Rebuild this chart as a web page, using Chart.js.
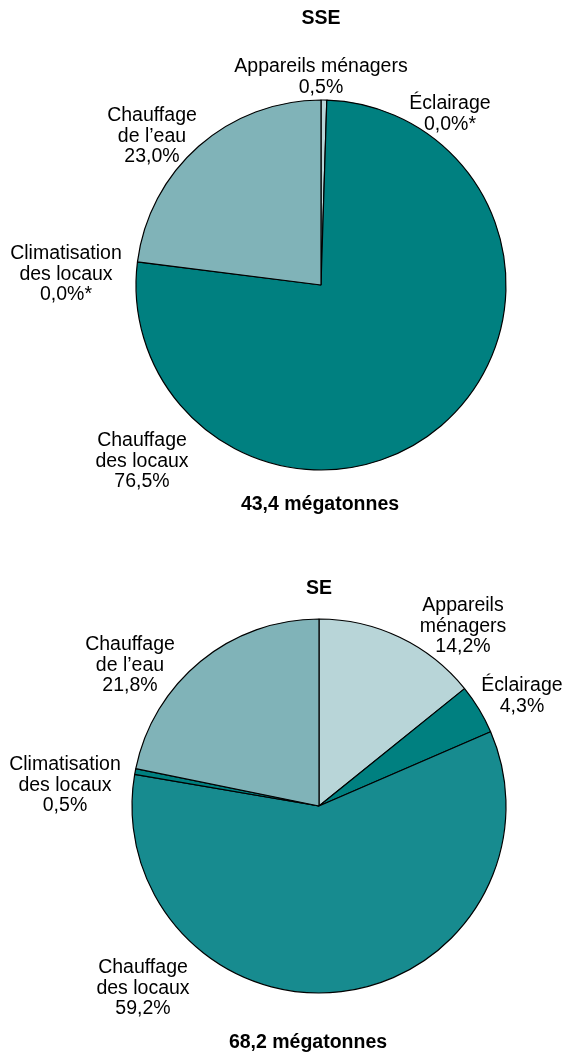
<!DOCTYPE html>
<html>
<head>
<meta charset="utf-8">
<script src="https://cdn.jsdelivr.net/npm/chart.js@4.4.0/dist/chart.umd.min.js"></script>
<style>
  body { margin: 0; background: #fff; }
  .pie { position: absolute; left: 0; width: 564px; }
</style>
</head>
<body>
<div class="pie" style="top:0;height:525px"><canvas id="sseChart"></canvas></div>
<div class="pie" style="top:525px;height:528px"><canvas id="seChart"></canvas></div>

<script>
// Slice order (clockwise from 12 o'clock): appliances, lighting, space heating, space cooling, water heating
const categoriesSSE = [
  ['Appareils ménagers'],
  ['Éclairage'],
  ['Chauffage', 'des locaux'],
  ['Climatisation', 'des locaux'],
  ['Chauffage', 'de l’eau']
];
const categoriesSE = [
  ['Appareils', 'ménagers'],
  ['Éclairage'],
  ['Chauffage', 'des locaux'],
  ['Climatisation', 'des locaux'],
  ['Chauffage', 'de l’eau']
];

const sharesSSE = [0.5, 0.0, 76.5, 0.0, 23.0];
const sharesSE = [14.2, 4.3, 59.2, 0.5, 21.8];

const totalSSE = '43,4 mégatonnes';
const totalSE = '68,2 mégatonnes';

const colorsSSE = ['#b8d5d8', '#008080', '#008080', '#008080', '#80b3b8'];
const colorsSE = ['#b8d5d8', '#008080', '#178b8f', '#008080', '#80b3b8'];

const FONT = '"Liberation Sans", Arial, sans-serif';

// French style percentage, with a note marker for rounded-to-zero shares
function fmtShare(v) {
  return v.toFixed(1).replace('.', ',') + '%' + (v === 0 ? '*' : '');
}

const sliceLabels = {
  id: 'sliceLabels',
  afterDraw(chart, args, opts) {
    const ctx = chart.ctx;
    const values = chart.data.datasets[0].data;
    ctx.save();
    ctx.fillStyle = '#000';
    ctx.textAlign = 'center';
    ctx.textBaseline = 'middle';

    ctx.font = 'bold 19.5px ' + FONT;
    ctx.fillText(opts.title, opts.titlePos[0], opts.titlePos[1]);
    ctx.fillText(opts.footer, opts.footerPos[0], opts.footerPos[1]);

    ctx.font = '19.5px ' + FONT;
    chart.data.labels.forEach((lines, i) => {
      const [x, y] = opts.positions[i];
      const all = lines.concat([fmtShare(values[i])]);
      all.forEach((t, k) => ctx.fillText(t, x, y + k * 20.5));
    });
    ctx.restore();
  }
};

function renderPie(canvasId, labels, values, colors, radius, padding, labelOpts) {
  const ctx = document.getElementById(canvasId).getContext('2d');
  new Chart(ctx, {
    type: 'pie',
    data: {
      labels: labels,
      datasets: [{
        data: values,
        backgroundColor: colors,
        borderColor: '#000',
        borderWidth: 1.2
      }]
    },
    options: {
      responsive: true,
      maintainAspectRatio: false,
      animation: false,
      radius: radius,
      layout: { padding: padding },
      plugins: {
        legend: { display: false },
        tooltip: { enabled: false },
        sliceLabels: labelOpts
      }
    },
    plugins: [sliceLabels]
  });
}

renderPie('sseChart', categoriesSSE, sharesSSE, colorsSSE, 185,
  { left: 78, right: 0, top: 45, bottom: 0 },
  {
    title: 'SSE',
    titlePos: [321, 19],
    footer: totalSSE,
    footerPos: [320, 505],
    positions: [[321, 67], [450, 104], [142, 441], [66, 254], [152, 116]]
  });

renderPie('seChart', categoriesSE, sharesSE, colorsSE, 187,
  { left: 74, right: 0, top: 34, bottom: 0 },
  {
    title: 'SE',
    titlePos: [319, 64],
    footer: totalSE,
    footerPos: [308, 518],
    positions: [[463, 81], [522, 161], [143, 443], [65, 240], [130, 120]]
  });
</script>
</body>
</html>
